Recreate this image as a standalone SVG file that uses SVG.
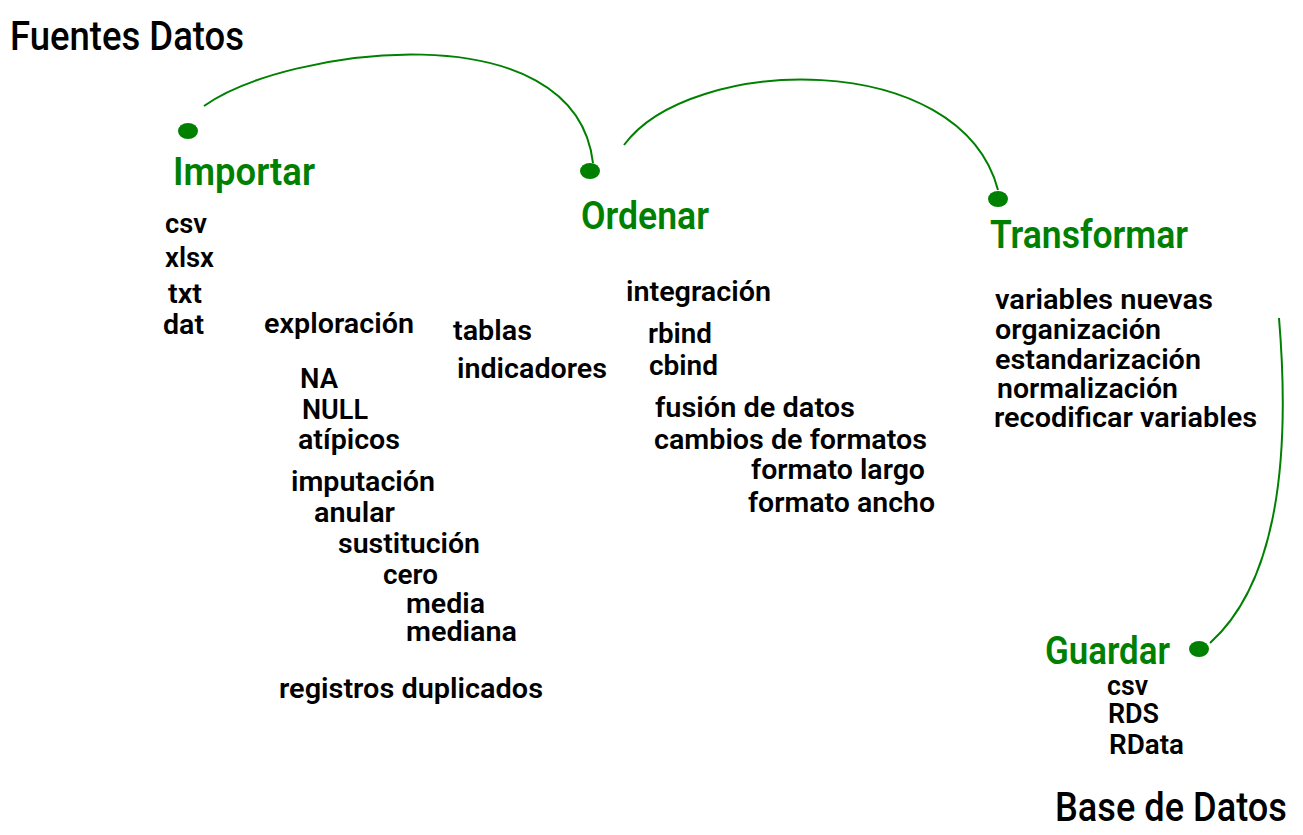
<svg xmlns="http://www.w3.org/2000/svg" width="1303" height="835" viewBox="0 0 1303 835">
<style>
.h{font-family:Roboto,"Liberation Sans",sans-serif;font-weight:500;font-size:40px;fill:#000}
.g{font-family:Roboto,"Liberation Sans",sans-serif;font-weight:600;font-size:39px;fill:#008000}
.t{font-family:Roboto,"Liberation Sans",sans-serif;font-weight:600;font-size:28px;fill:#000}
.c{fill:none;stroke:#008000;stroke-width:2}
.d{fill:#008000}
</style>
<rect width="1303" height="835" fill="#fff"/>
<g id="connectors">
<path class="c" d="M204,106 C285,48 575,8 593,163"/>
<path class="c" d="M624,145 C690,55 960,47 998,190"/>
<path class="c" d="M1279,318 C1290,450 1280,580 1210,643"/>
</g>
<g id="fuentes"><text class="h" x="10" y="50" textLength="234" lengthAdjust="spacingAndGlyphs">Fuentes Datos</text></g>
<g id="importar">
<ellipse class="d" cx="188" cy="131" rx="10" ry="8"/>
<text class="g" x="173" y="185" textLength="142" lengthAdjust="spacingAndGlyphs">Importar</text>
<text class="t" x="165" y="233" textLength="42" lengthAdjust="spacingAndGlyphs">csv</text>
<text class="t" x="165" y="267" textLength="49" lengthAdjust="spacingAndGlyphs">xlsx</text>
<text class="t" x="168" y="303" textLength="34" lengthAdjust="spacingAndGlyphs">txt</text>
<text class="t" x="163" y="334" textLength="41" lengthAdjust="spacingAndGlyphs">dat</text>
<text class="t" x="264" y="333" textLength="150" lengthAdjust="spacingAndGlyphs">exploración</text>
<text class="t" x="300" y="388" textLength="38" lengthAdjust="spacingAndGlyphs">NA</text>
<text class="t" x="302" y="419" textLength="66" lengthAdjust="spacingAndGlyphs">NULL</text>
<text class="t" x="298" y="449" textLength="102" lengthAdjust="spacingAndGlyphs">atípicos</text>
<text class="t" x="453" y="340" textLength="79" lengthAdjust="spacingAndGlyphs">tablas</text>
<text class="t" x="457" y="378" textLength="150" lengthAdjust="spacingAndGlyphs">indicadores</text>
<text class="t" x="291" y="491" textLength="144" lengthAdjust="spacingAndGlyphs">imputación</text>
<text class="t" x="314" y="522" textLength="81" lengthAdjust="spacingAndGlyphs">anular</text>
<text class="t" x="338" y="553" textLength="142" lengthAdjust="spacingAndGlyphs">sustitución</text>
<text class="t" x="383" y="584" textLength="55" lengthAdjust="spacingAndGlyphs">cero</text>
<text class="t" x="406" y="613" textLength="79" lengthAdjust="spacingAndGlyphs">media</text>
<text class="t" x="406" y="641" textLength="111" lengthAdjust="spacingAndGlyphs">mediana</text>
<text class="t" x="279" y="698" textLength="264" lengthAdjust="spacingAndGlyphs">registros duplicados</text>
</g>
<g id="ordenar">
<ellipse class="d" cx="590" cy="171" rx="10" ry="8"/>
<text class="g" x="581" y="229" textLength="128" lengthAdjust="spacingAndGlyphs">Ordenar</text>
<text class="t" x="626" y="301" textLength="145" lengthAdjust="spacingAndGlyphs">integración</text>
<text class="t" x="648" y="343" textLength="64" lengthAdjust="spacingAndGlyphs">rbind</text>
<text class="t" x="649" y="375" textLength="69" lengthAdjust="spacingAndGlyphs">cbind</text>
<text class="t" x="655" y="417" textLength="200" lengthAdjust="spacingAndGlyphs">fusión de datos</text>
<text class="t" x="654" y="449" textLength="273" lengthAdjust="spacingAndGlyphs">cambios de formatos</text>
<text class="t" x="751" y="479" textLength="174" lengthAdjust="spacingAndGlyphs">formato largo</text>
<text class="t" x="748" y="512" textLength="187" lengthAdjust="spacingAndGlyphs">formato ancho</text>
</g>
<g id="transformar">
<ellipse class="d" cx="998" cy="199" rx="10" ry="8"/>
<text class="g" x="990" y="248" textLength="198" lengthAdjust="spacingAndGlyphs">Transformar</text>
<text class="t" x="995" y="309" textLength="218" lengthAdjust="spacingAndGlyphs">variables nuevas</text>
<text class="t" x="995" y="339" textLength="166" lengthAdjust="spacingAndGlyphs">organización</text>
<text class="t" x="995" y="369" textLength="206" lengthAdjust="spacingAndGlyphs">estandarización</text>
<text class="t" x="997" y="398" textLength="181" lengthAdjust="spacingAndGlyphs">normalización</text>
<text class="t" x="994" y="427" textLength="263" lengthAdjust="spacingAndGlyphs">recodificar variables</text>
</g>
<g id="guardar">
<ellipse class="d" cx="1199" cy="649" rx="10" ry="8"/>
<text class="g" x="1045" y="664" textLength="125" lengthAdjust="spacingAndGlyphs">Guardar</text>
<text class="t" x="1107" y="695" textLength="41" lengthAdjust="spacingAndGlyphs">csv</text>
<text class="t" x="1108" y="723" textLength="51" lengthAdjust="spacingAndGlyphs">RDS</text>
<text class="t" x="1109" y="754" textLength="75" lengthAdjust="spacingAndGlyphs">RData</text>
</g>
<g id="base"><text class="h" x="1055" y="821" textLength="232" lengthAdjust="spacingAndGlyphs">Base de Datos</text></g>
</svg>
